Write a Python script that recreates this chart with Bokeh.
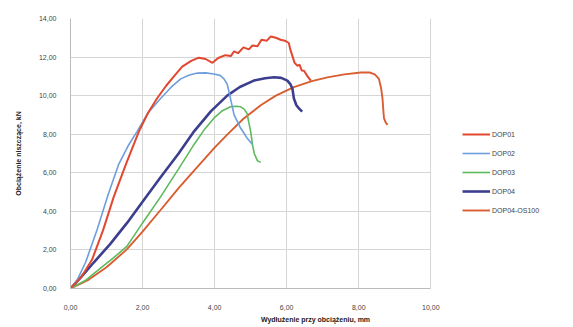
from bokeh.plotting import figure
from bokeh.models import Legend, LegendItem, FixedTicker, CustomJSTickFormatter, Grid
from bokeh.embed import file_html
from bokeh.resources import INLINE

# Data (deflection mm, load kN)
dop01_x = [0.0, 0.3, 0.6, 0.9, 1.2, 1.55, 1.9, 2.15, 2.4, 2.65, 2.87, 3.1, 3.35, 3.56, 3.75, 3.94, 4.1, 4.3, 4.45, 4.54, 4.65, 4.8, 4.95, 5.05, 5.19, 5.3, 5.45, 5.56, 5.7, 5.83, 5.95, 6.06, 6.1, 6.16, 6.22, 6.3, 6.36, 6.42, 6.48, 6.58, 6.67]
dop01_y = [0.0, 0.6, 1.5, 3.0, 4.75, 6.5, 8.15, 9.1, 9.85, 10.5, 11.0, 11.5, 11.8, 11.97, 11.9, 11.7, 11.95, 12.1, 12.05, 12.3, 12.2, 12.5, 12.4, 12.6, 12.56, 12.9, 12.85, 13.07, 13.0, 12.9, 12.85, 12.73, 12.4, 12.05, 11.7, 11.55, 11.6, 11.3, 11.29, 11.0, 10.78]

dop02_x = [0.0, 0.2, 0.42, 0.74, 1.05, 1.34, 1.6, 1.85, 2.15, 2.5, 2.8, 3.06, 3.3, 3.52, 3.75, 3.98, 4.15, 4.26, 4.35, 4.4, 4.47, 4.54, 4.62, 4.72, 4.8, 4.9, 5.05]
dop02_y = [0.0, 0.5, 1.36, 3.06, 4.9, 6.45, 7.4, 8.15, 9.1, 9.85, 10.45, 10.87, 11.07, 11.17, 11.18, 11.12, 11.05, 10.87, 10.6, 10.19, 9.6, 9.0, 8.7, 8.32, 8.1, 7.8, 7.47]

dop03_x = [0.0, 0.4, 0.8, 1.2, 1.57, 2.0, 2.5, 3.0, 3.43, 3.7, 3.98, 4.2, 4.44, 4.6, 4.72, 4.82, 4.9, 4.95, 5.0, 5.05, 5.1, 5.19, 5.28]
dop03_y = [0.0, 0.4, 1.0, 1.6, 2.2, 3.4, 4.75, 6.2, 7.47, 8.2, 8.83, 9.2, 9.42, 9.45, 9.42, 9.3, 9.08, 8.6, 8.15, 7.47, 7.0, 6.62, 6.54]

dop04_x = [0.0, 0.3, 0.65, 1.1, 1.57, 2.0, 2.5, 3.0, 3.43, 3.9, 4.35, 4.7, 5.09, 5.4, 5.65, 5.85, 6.02, 6.1, 6.16, 6.2, 6.27, 6.34, 6.43]
dop04_y = [0.0, 0.6, 1.36, 2.3, 3.4, 4.5, 5.77, 7.0, 8.15, 9.2, 10.0, 10.45, 10.78, 10.9, 10.95, 10.92, 10.78, 10.6, 10.36, 9.85, 9.5, 9.34, 9.17]

os100_x = [0.0, 0.5, 1.0, 1.57, 2.0, 2.5, 3.0, 3.43, 4.0, 4.35, 4.8, 5.28, 5.7, 6.2, 6.7, 7.13, 7.6, 8.06, 8.3, 8.43, 8.5, 8.56, 8.62, 8.66, 8.68, 8.7, 8.75, 8.8]
os100_y = [0.0, 0.45, 1.1, 2.04, 2.95, 4.07, 5.2, 6.11, 7.3, 7.98, 8.8, 9.5, 10.0, 10.44, 10.75, 10.95, 11.1, 11.2, 11.2, 11.12, 11.0, 10.87, 10.4, 9.85, 9.3, 8.83, 8.6, 8.49]

series_names = ["DOP01", "DOP02", "DOP03", "DOP04", "DOP04-OS100"]
series_colors = ["#E2472F", "#6D9EDB", "#5DBA5D", "#3B3F8E", "#D95E32"]
series_widths = [2.0, 1.6, 1.6, 2.6, 1.9]

x_ticks = [0, 2, 4, 6, 8, 10]
y_ticks = [0, 2, 4, 6, 8, 10, 12, 14]
x_label = "Wydłużenie przy obciążeniu, mm"
y_label = "Obciążenie niszczące, kN"

X_MAX = 10
# frame extends to the right so the legend can sit beside the axes area
p = figure(width=565, height=325, output_backend="svg", toolbar_location=None,
           x_range=(0, 13.6), y_range=(0, 14),
           min_border_left=70, min_border_right=5, min_border_top=18, min_border_bottom=32)
p.outline_line_color = None
p.background_fill_color = "white"

FONT = "Liberation Sans"
for ax in (p.xaxis[0], p.yaxis[0]):
    ax.major_label_text_font = FONT
    ax.major_label_text_font_size = "7px"
    ax.major_label_text_color = "#444444"
    ax.axis_label_text_font = FONT
    ax.axis_label_text_font_size = "7px"
    ax.axis_label_text_font_style = "bold"
    ax.axis_label_text_color = "#222222"
    ax.major_tick_line_color = None
    ax.minor_tick_line_color = None
    ax.axis_line_color = "#BBBBBB"

p.xaxis.bounds = (0, X_MAX)
p.xaxis.ticker = FixedTicker(ticks=x_ticks)
p.yaxis.ticker = FixedTicker(ticks=y_ticks)
fmt = CustomJSTickFormatter(code="return tick.toFixed(2).replace('.', ',');")
p.xaxis.formatter = fmt
p.yaxis.formatter = fmt
p.xaxis.axis_label = x_label
p.yaxis.axis_label = y_label
p.xaxis.major_label_standoff = 10
p.yaxis.major_label_standoff = 8
p.xaxis.axis_label_standoff = 3
p.yaxis.axis_label_standoff = 14

p.xgrid.grid_line_color = "#D6D6D6"
p.ygrid.grid_line_color = "#D6D6D6"
p.xgrid.grid_line_width = 1
p.ygrid.grid_line_width = 1
if "cross_bounds" in Grid.properties():
    p.ygrid.cross_bounds = (0, X_MAX)
else:
    p.ygrid.grid_line_color = None
    p.segment(x0=[0] * len(y_ticks), x1=[X_MAX] * len(y_ticks), y0=y_ticks, y1=y_ticks,
              line_color="#D6D6D6", line_width=1)

xs = [dop01_x, dop02_x, dop03_x, dop04_x, os100_x]
ys = [dop01_y, dop02_y, dop03_y, dop04_y, os100_y]
order = [4, 3, 2, 1, 0]
renderers = {}
for i in order:
    r = p.line(xs[i], ys[i], line_color=series_colors[i], line_width=series_widths[i])
    renderers[i] = r

items = [LegendItem(label=series_names[i], renderers=[renderers[i]]) for i in range(5)]
legend = Legend(items=items, location=(392, 74), border_line_color=None,
                background_fill_alpha=0, label_text_font=FONT, label_text_font_size="7px",
                label_text_color="#444444", glyph_width=28, glyph_height=8,
                spacing=11, label_standoff=2, padding=0, margin=0)
p.add_layout(legend, "center")

open("out.html", "w").write(file_html(p, INLINE))
